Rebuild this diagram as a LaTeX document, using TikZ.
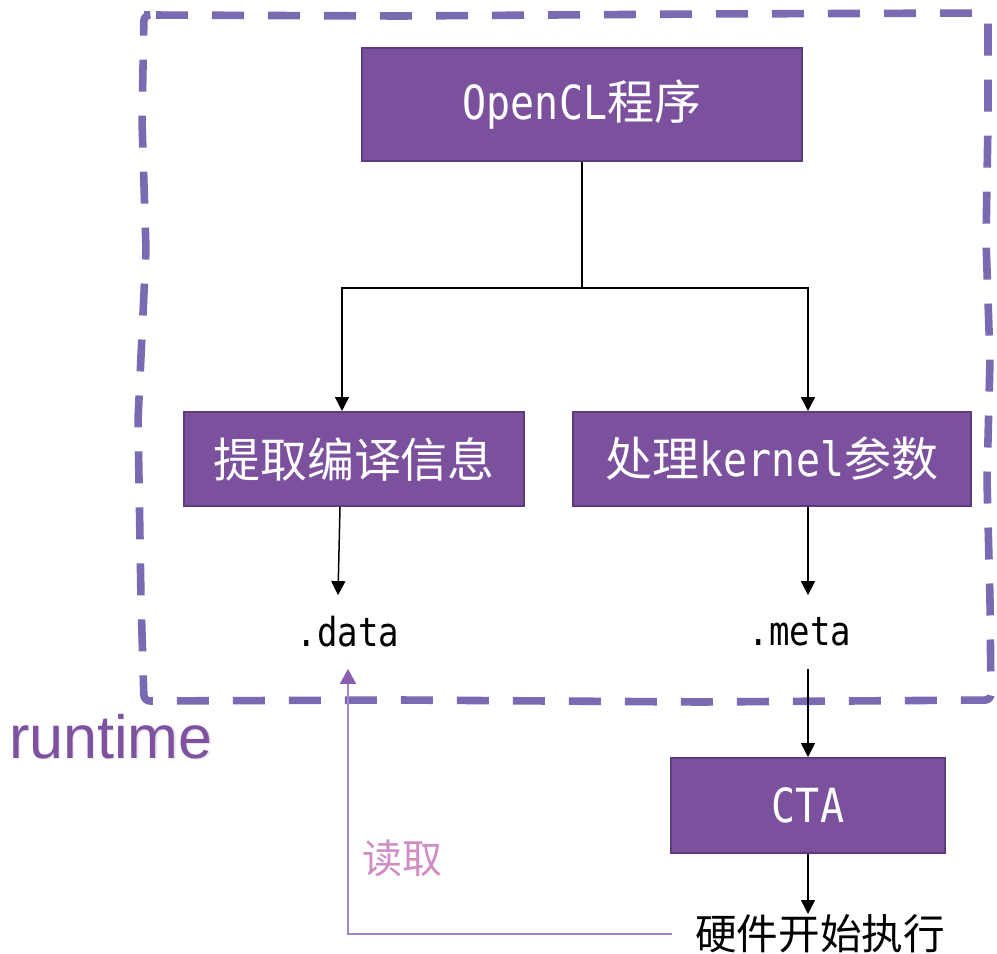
\documentclass[tikz,border=0pt]{standalone}
\usepackage{fontspec}
\setmainfont{Noto Sans CJK SC}
\newfontfamily\monof[FakeStretch=0.85]{DejaVu Sans Mono}
\newfontfamily\sansf{Liberation Sans}
\usetikzlibrary{arrows.meta}
\definecolor{boxfill}{HTML}{7B509C}
\definecolor{boxline}{HTML}{5C3C7C}
\definecolor{framec}{HTML}{7A6AB2}
\definecolor{runc}{HTML}{7E52A0}
\definecolor{readc}{HTML}{D08CC4}
\definecolor{fbline}{HTML}{A585C6}
\definecolor{fbhead}{HTML}{8A5DB0}
\begin{document}
\begin{tikzpicture}[x=0.5pt,y=-0.5pt,
  procbox/.style={draw=boxline, line width=1pt, fill=boxfill, text=white,
    inner sep=0pt, font=\fontsize{23.5pt}{28pt}\selectfont},
  filelabel/.style={inner sep=0pt, minimum height=36.5pt,
    font=\monof\fontsize{20pt}{24pt}\selectfont},
  arr/.style={line width=0.75pt, -{Triangle[length=7pt,width=7pt]}},
  fb/.style={draw=fbline, line width=0.9pt,
    -{Triangle[length=7.5pt,width=8pt,color=fbhead]}},
  runframe/.style={draw=framec, line width=3.8pt, dash pattern=on 16pt off 12pt,
    rounded corners=3pt}]
\useasboundingbox (0,0) rectangle (997,954);

% runtime boundary (hand-drawn dashed outline)
\draw[runframe] (150,15) -- (400,16) -- (700,14) -- (988,13) -- (988,120)
  -- (986,240) -- (990,360) -- (987,480) -- (990,600) -- (991,700)
  -- (700,702) -- (400,700) -- (144,701) -- (141,600) -- (138,420)
  -- (146,250) -- (142,120) -- (144,15) -- cycle;

\node[anchor=base west, text=black!20, opacity=0.45, font=\sansf\fontsize{30.5pt}{36pt}\selectfont]
  at (3.5,759.5) {runtime};
\node[anchor=base west, text=runc, font=\sansf\fontsize{30.5pt}{36pt}\selectfont]
  (rt) at (2,758) {runtime};

% process boxes
\node[procbox, minimum width=220pt, minimum height=56.5pt] (top) at (582,104.5)
  {{\monof OpenCL}程序};
\node[procbox, minimum width=170pt, minimum height=47pt] (lb) at (354,459)
  {提取编译信息};
\node[procbox, minimum width=199pt, minimum height=47pt] (rb) at (772,459)
  {处理{\monof kernel}参数};
\node[procbox, minimum width=137pt, minimum height=47.5pt] (cta) at (808,805.5)
  {{\monof CTA}};

% output files
\node[filelabel] (data) at (348,632) {.data};
\node[filelabel] (meta) at (800,632) {.meta};

\node[anchor=north, inner xsep=11.5pt, inner ysep=0pt,
  font=\fontsize{20.8pt}{24pt}\selectfont] (hw) at (820,914) {硬件开始执行};
\node[text=readc, inner sep=0pt, font=\fontsize{20pt}{24pt}\selectfont]
  (rd) at (402,858) {读取};

% connectors
\coordinate (j) at (580,288);
\coordinate (col) at (808,0);
\draw[line width=0.75pt] (top.south) -- (top.south |- j);
\draw[arr] (top.south |- j) -| ([xshift=-6pt]lb.north);
\draw[arr] (top.south |- j) -| (rb.north -| col);
\draw[arr] ([xshift=-7pt]lb.south) -- ([xshift=-5pt]data.north);
\draw[arr] (rb.south -| col) -- (meta.north -| col);
\draw[arr] (meta.south -| col) -- (cta.north);
\draw[arr] (cta.south) -- (hw.north -| cta.south);
\draw[fb] (hw.west) -| (data.south);
\end{tikzpicture}
\end{document}
